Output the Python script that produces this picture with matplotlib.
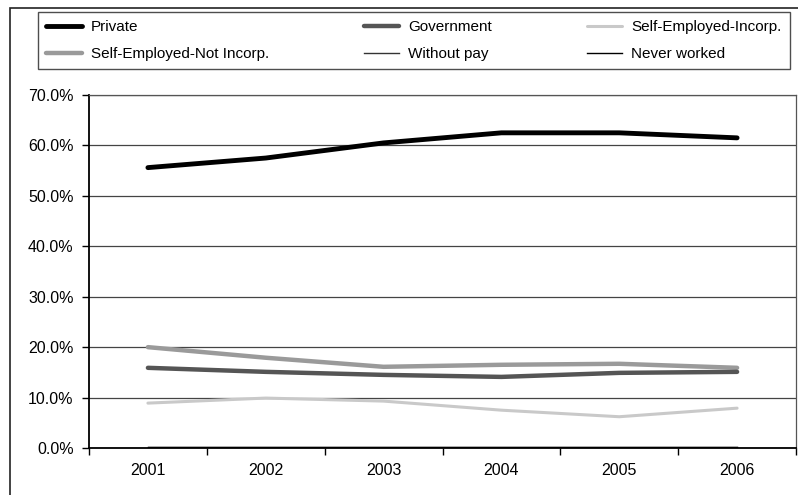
import matplotlib
matplotlib.use("Agg")
import matplotlib.pyplot as plt
from matplotlib.patches import Rectangle
from matplotlib.ticker import FuncFormatter

plt.rcParams['font.family'] = ['Liberation Sans', 'DejaVu Sans']

years = ['2001', '2002', '2003', '2004', '2005', '2006']
private = [55.6, 57.5, 60.5, 62.5, 62.5, 61.5]
government = [15.9, 15.1, 14.5, 14.1, 14.9, 15.1]
self_inc = [8.9, 9.9, 9.3, 7.5, 6.2, 7.9]
self_not_inc = [20.0, 17.9, 16.1, 16.5, 16.7, 15.9]
without_pay = [0.2, 0.2, 0.2, 0.2, 0.2, 0.2]
never_worked = [0.1, 0.1, 0.1, 0.1, 0.1, 0.1]

W, H = 798, 495
fig = plt.figure(figsize=(W / 100, H / 100), dpi=100)
ax = fig.add_axes([89 / W, 1 - 448 / H, (796 - 89) / W, (448 - 95) / H])

x = range(len(years))
# light ones first so the dark lines sit on top
l_inc, = ax.plot(x, self_inc, color='#c9c9c9', lw=2.2, solid_capstyle='round', label='Self-Employed-Incorp.')
l_not, = ax.plot(x, self_not_inc, color='#9a9a9a', lw=3.2, solid_capstyle='round', label='Self-Employed-Not Incorp.')
l_gov, = ax.plot(x, government, color='#555555', lw=3.2, solid_capstyle='round', label='Government')
l_wp, = ax.plot(x, without_pay, color='#333333', lw=1.0, label='Without pay')
l_nw, = ax.plot(x, never_worked, color='#000000', lw=1.0, label='Never worked')
l_pri, = ax.plot(x, private, color='#000000', lw=3.5, solid_capstyle='round', label='Private')

ax.set_xlim(-0.5, len(years) - 0.5)
ax.set_ylim(0, 70)
ax.set_yticks(range(0, 71, 10))
ax.yaxis.set_major_formatter(FuncFormatter(lambda v, p: '%.1f%%' % v))
ax.grid(axis='y', color='#444444', lw=0.9)
ax.set_axisbelow(True)

ax.set_xticks([i - 0.5 for i in range(len(years) + 1)])
ax.set_xticklabels([])
ax.set_xticks(list(x), minor=True)
ax.set_xticklabels(years, minor=True)
ax.tick_params(axis='x', which='major', length=5, width=1, color='black')
ax.tick_params(axis='x', which='minor', length=0, pad=11, labelsize=11.5)
ax.tick_params(axis='y', length=5, width=1, labelsize=11.5, pad=6)

for side in ['left', 'bottom']:
    ax.spines[side].set_color('black')
    ax.spines[side].set_linewidth(1.3)
for side in ['top', 'right']:
    ax.spines[side].set_color('#555555')
    ax.spines[side].set_linewidth(0.9)

# outer chart border
fig.patches.append(Rectangle((10 / W, -0.01), 1.0, 1 - 8 / H + 0.01, transform=fig.transFigure,
                             fill=False, edgecolor='#222222', lw=1.2))

handles = [l_pri, l_gov, l_inc, l_not, l_wp, l_nw]
# reorder for row-wise filling with ncol=3
order = [0, 3, 1, 4, 2, 5]
leg = fig.legend([handles[i] for i in order], [handles[i].get_label() for i in order],
                 ncol=3, loc='upper left',
                 bbox_to_anchor=(38 / W, 1 - 66 / H, (790 - 38) / W, (66 - 12) / H),
                 mode='expand', frameon=True, fancybox=False, fontsize=11,
                 handlelength=2.3, handletextpad=0.6, borderaxespad=0,
                 labelspacing=0.82, borderpad=0.55)
leg.get_frame().set_edgecolor('#222222')
leg.get_frame().set_linewidth(1.0)

fig.savefig('out.png', dpi=100)
